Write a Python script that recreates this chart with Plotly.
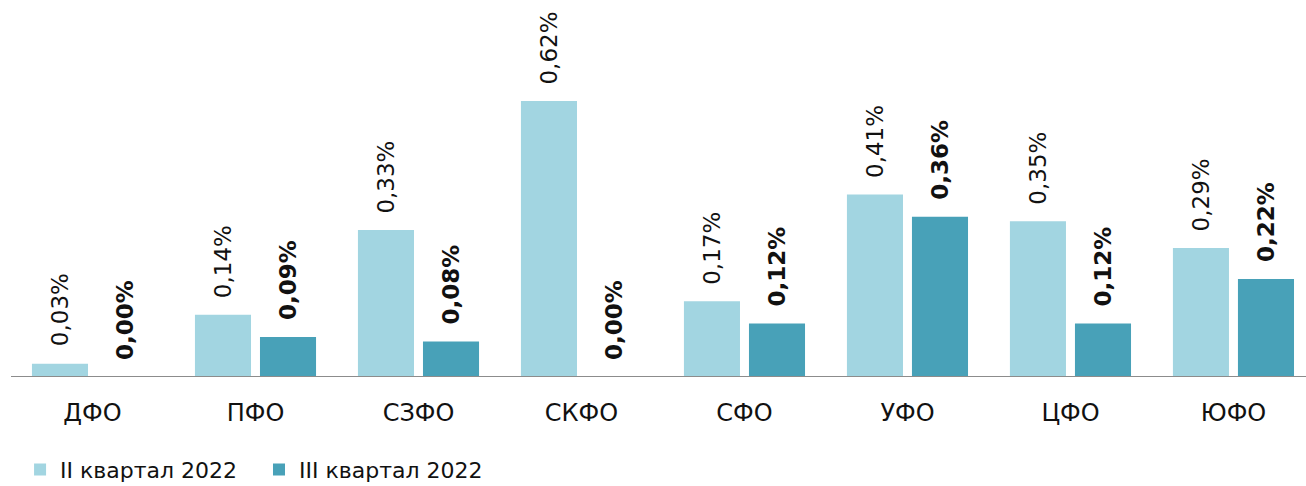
import plotly.graph_objects as go

# Federal districts and share values (%) for two quarters
districts = ["ДФО", "ПФО", "СЗФО", "СКФО", "СФО", "УФО", "ЦФО", "ЮФО"]
q2_2022 = [0.03, 0.14, 0.33, 0.62, 0.17, 0.41, 0.35, 0.29]
q3_2022 = [0.00, 0.09, 0.08, 0.00, 0.12, 0.36, 0.12, 0.22]
series_names = ["II квартал 2022", "III квартал 2022"]

LIGHT = "#A2D5E1"
TEAL = "#48A1B8"
FONT = "Century Gothic, DejaVu Sans, sans-serif"

fig = go.Figure()
fig.add_trace(go.Bar(x=districts, y=q2_2022, name=series_names[0], legend="legend",
                     marker=dict(color=LIGHT, line=dict(width=0))))
fig.add_trace(go.Bar(x=districts, y=q3_2022, name=series_names[1], legend="legend2",
                     marker=dict(color=TEAL, line=dict(width=0))))


def fmt(v):
    return f"{v:.2f}%".replace(".", ",")


annotations = []
for i, d in enumerate(districts):
    for vals, shift, bold in ((q2_2022, -32.5, False), (q3_2022, 32.5, True)):
        txt = fmt(vals[i])
        annotations.append(dict(
            x=d, y=vals[i], xref="x", yref="y", xshift=shift, yshift=15,
            text=f"<b>{txt}</b>" if bold else txt, textangle=-90,
            showarrow=False, xanchor="center", yanchor="bottom",
            font=dict(family=FONT, size=23, color="#111111"),
        ))

legend_style = dict(orientation="h", xanchor="left", y=-0.19, yanchor="top",
                    font=dict(family=FONT, size=22, color="#111111"),
                    itemwidth=30, bgcolor="rgba(0,0,0,0)")

fig.update_layout(
    width=1306, height=486,
    margin=dict(l=11, r=0, t=0, b=109, autoexpand=False),
    paper_bgcolor="white", plot_bgcolor="white",
    barmode="group", bargap=0.202, bargroupgap=0.138,
    font=dict(family=FONT, size=23, color="#111111"),
    annotations=annotations,
    showlegend=True,
    legend=dict(x=0.007, **legend_style),
    legend2=dict(x=0.1915, **legend_style),
    xaxis=dict(range=[-0.5, 7.445], showgrid=False, zeroline=False,
               showline=False, ticks="", ticklabelstandoff=19, automargin=False,
               tickfont=dict(family=FONT, size=24, color="#111111")),
    yaxis=dict(range=[0, 0.847], visible=False, showgrid=False, automargin=False),
)
# baseline along the category axis
fig.add_shape(type="line", xref="paper", yref="y", x0=0, x1=1, y0=0, y1=0,
              line=dict(color="#8C8C8C", width=2))

fig.write_html("out.html")
